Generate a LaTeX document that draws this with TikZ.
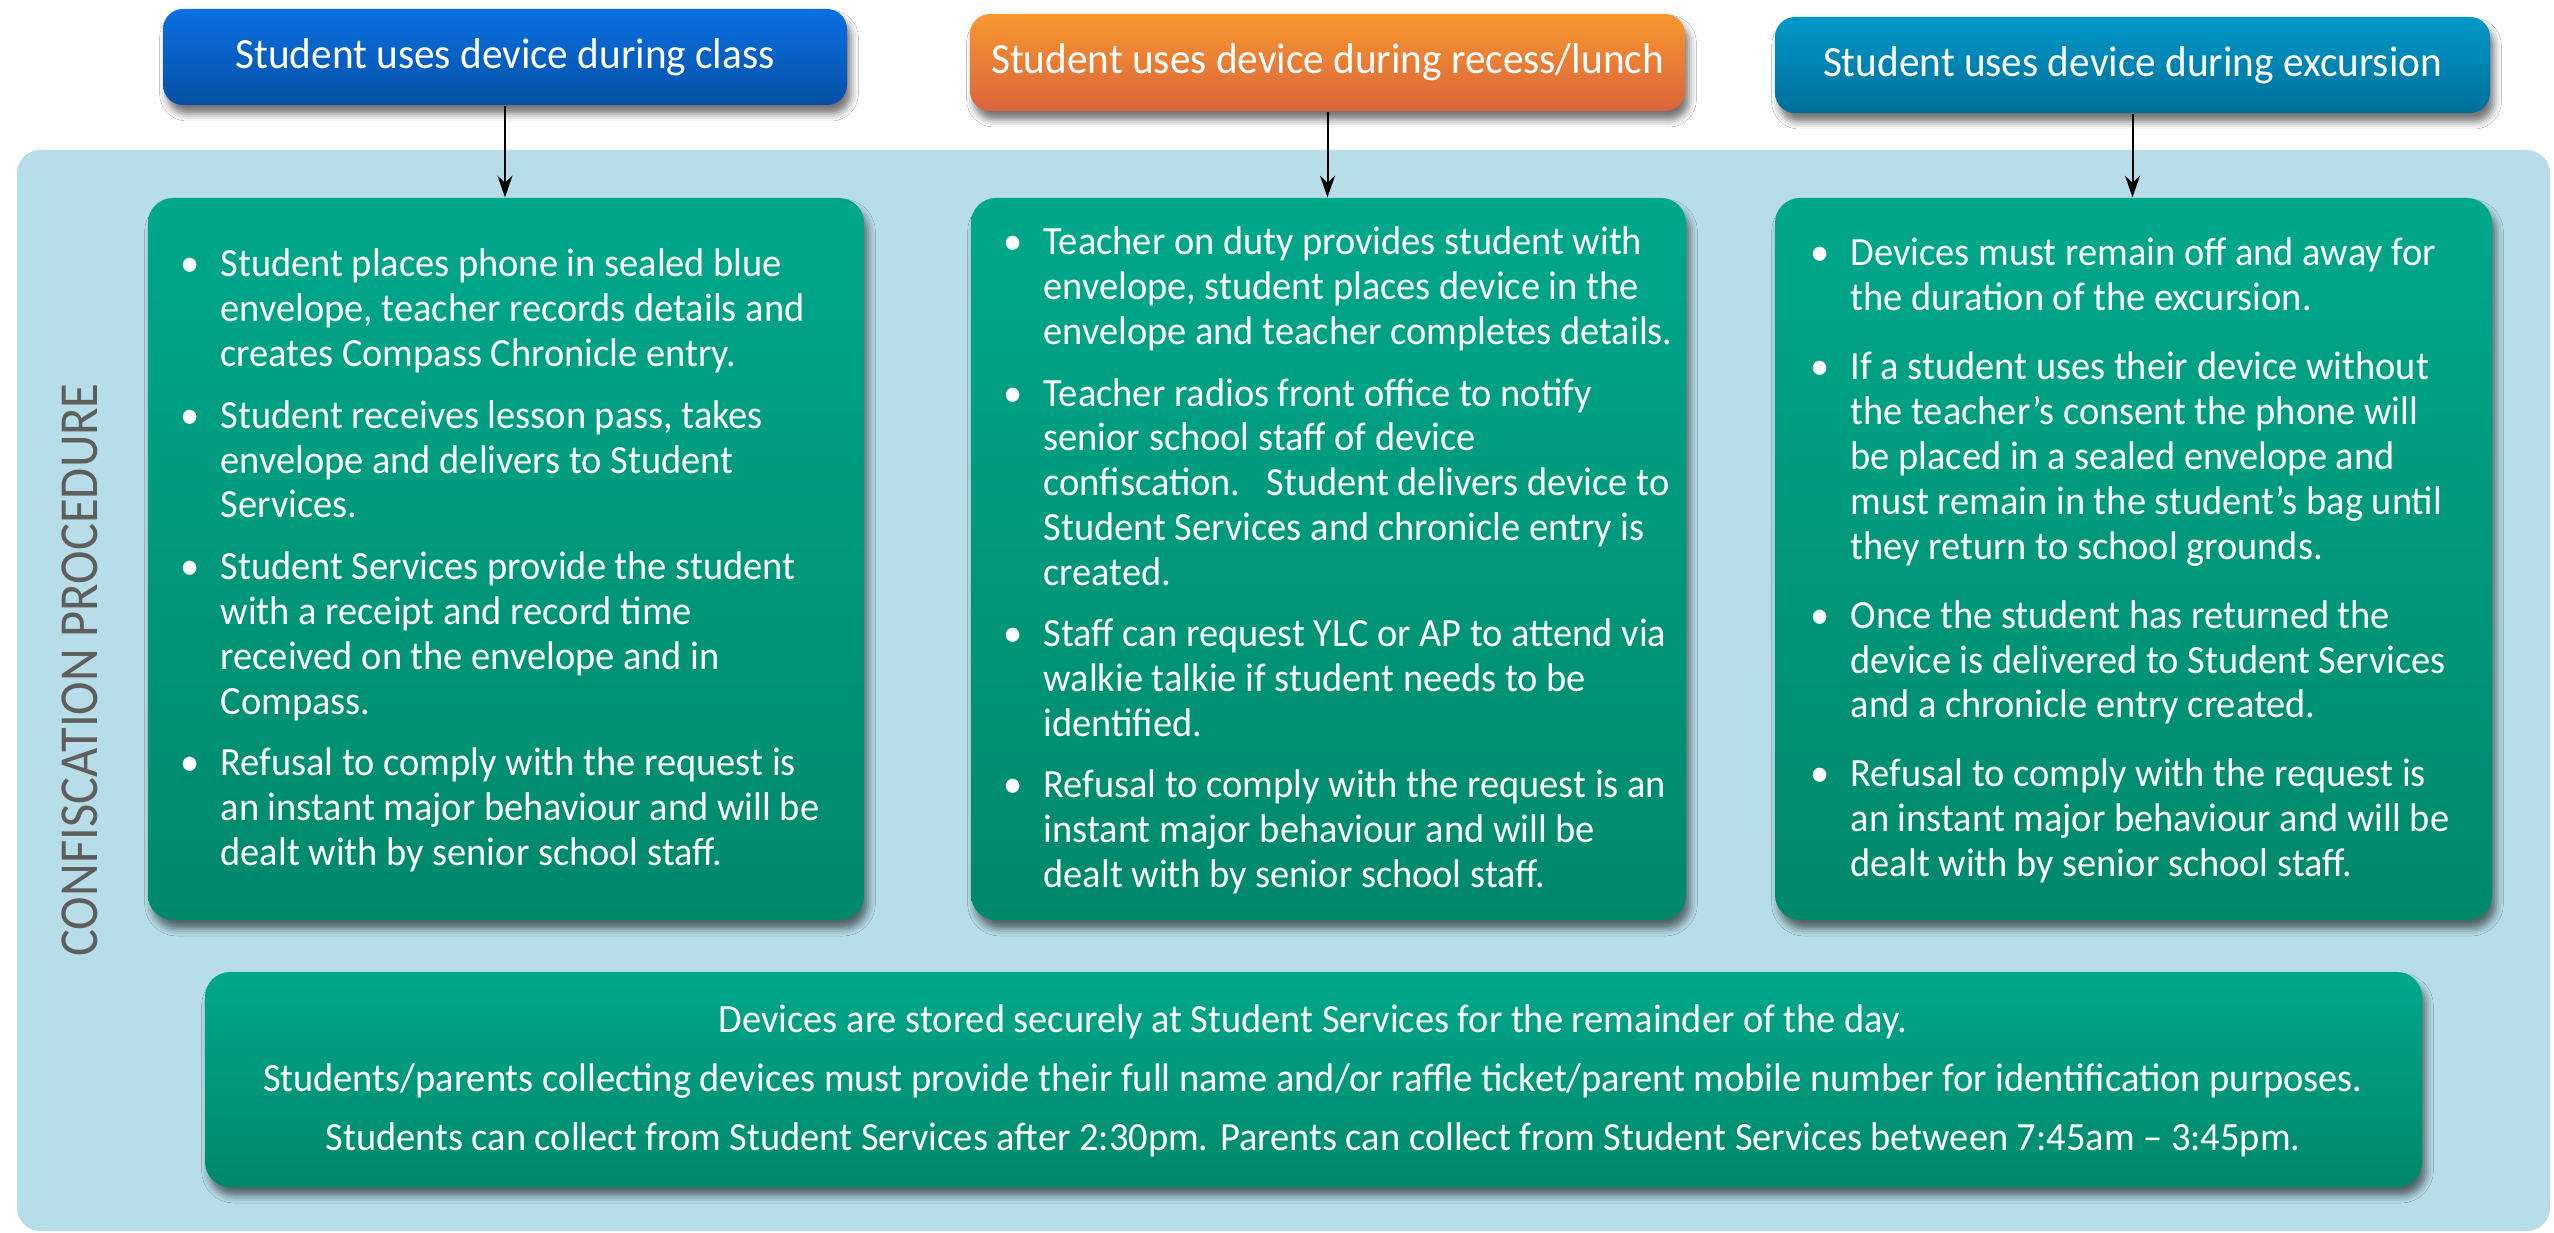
\documentclass[tikz,border=0pt]{standalone}
\usepackage{fontspec}
\setmainfont{Carlito}[FakeStretch=0.96]
\newfontfamily\vfont{Carlito}[FakeStretch=0.92]
\usetikzlibrary{arrows.meta,shadows.blur,fit}
\definecolor{bgblue}{HTML}{B7DDE8}
\definecolor{grtop}{HTML}{00A88A}
\definecolor{grbot}{HTML}{00886B}
\definecolor{hAtop}{HTML}{0A70E2}
\definecolor{hAbot}{HTML}{0650A4}
\definecolor{hBtop}{HTML}{F7972F}
\definecolor{hBbot}{HTML}{DA643C}
\definecolor{hCtop}{HTML}{0098C9}
\definecolor{hCbot}{HTML}{006F98}
\definecolor{vgray}{HTML}{5E5E5E}
\newlength{\itemgap}
\newcommand{\bitem}[1]{\noindent\llap{\makebox[12pt][l]{\textbullet}}#1\par\vspace{\itemgap}}
\newcommand{\coltext}[2]{\parbox[t]{220pt}{\raggedright\fontsize{12}{13.44}\selectfont\setlength{\itemgap}{#1}#2}}
\begin{document}
\begin{tikzpicture}[x=0.3pt,y=-0.3pt,
  shd/.style={blur shadow={shadow xshift=1.2pt,shadow yshift=-2.6pt,shadow blur radius=2.2pt,shadow opacity=55}},
  hdr/.style={shd,rounded corners=6pt,inner sep=0pt},
  hdrtext/.style={inner sep=0pt,text=white,font=\fontsize{12.9}{15}\selectfont},
  grbox/.style={shd,rounded corners=7.5pt,inner sep=0pt,top color=grtop,bottom color=grbot},
  arr/.style={-{Stealth[length=6.5pt,width=4.5pt]},line width=0.6pt,black},
  txt/.style={inner sep=0pt,anchor=base west,text=white}]
\useasboundingbox (0,0) rectangle (2554,1233);
\fill[white] (0,0) rectangle (2554,1233);
% background panel
\fill[bgblue,rounded corners=7pt] (17,150) rectangle (2550,1231);
% header boxes
\node[hdr,top color=hAtop,bottom color=hAbot,fit={(163,9) (847,105)}] (h1) {};
\node[hdr,top color=hBtop,bottom color=hBbot,fit={(970,14) (1685,111)}] (h2) {};
\node[hdr,top color=hCtop,bottom color=hCbot,fit={(1775,17) (2490,113)}] (h3) {};
\node[hdrtext] (h1t) at (h1.center) {Student uses device during class};
\node[hdrtext] (h2t) at (h2.center) {Student uses device during recess/lunch};
\node[hdrtext] (h3t) at (h3.center) {Student uses device during excursion};
% green boxes
\node[grbox,fit={(148,198) (864,920)}] (g1) {};
\node[grbox,fit={(971,198) (1686,920)}] (g2) {};
\node[grbox,fit={(1775,198) (2492,920)}] (g3) {};
\node[grbox,fit={(205,972) (2422,1187)}] (g4) {};
% arrows
\draw[arr] (h1.south) -- (h1.south |- g1.north);
\draw[arr] (h2.south) -- (h2.south |- g2.north);
\draw[arr] (h3.south) -- (h3.south |- g3.north);
% vertical label
\node[rotate=90,text=vgray,inner sep=0pt,font=\vfont\fontsize{16.5}{18}\selectfont] (lbl) at (80,670) {CONFISCATION PROCEDURE};
% column texts
\node[txt] (t1) at (220,277) {\coltext{5.1pt}{%
\bitem{Student places phone in sealed blue\\envelope, teacher records details and\\creates Compass Chronicle entry.}%
\bitem{Student receives lesson pass, takes\\envelope and delivers to Student\\Services.}%
\bitem{Student Services provide the student\\with a receipt and record time\\received on the envelope and in\\Compass.}%
\bitem{Refusal to comply with the request is\\an instant major behaviour and will be\\dealt with by senior school staff.}}};
\node[txt] (t2) at (1043,255) {\coltext{5.0pt}{%
\bitem{Teacher on duty provides student with\\envelope, student places device in the\\envelope and teacher completes details.}%
\bitem{Teacher radios front office to notify\\senior school staff of device\\confiscation.\ \ \ Student delivers device to\\Student Services and chronicle entry is\\created.}%
\bitem{Staff can request YLC or AP to attend via\\walkie talkie if student needs to be\\identified.}%
\bitem{Refusal to comply with the request is an\\instant major behaviour and will be\\dealt with by senior school staff.}}};
\node[txt] (t3) at (1850,266) {\coltext{7.3pt}{%
\bitem{Devices must remain off and away for\\the duration of the excursion.}%
\bitem{If a student uses their device without\\the teacher’s consent the phone will\\be placed in a sealed envelope and\\must remain in the student’s bag until\\they return to school grounds.}%
\bitem{Once the student has returned the\\device is delivered to Student Services\\and a chronicle entry created.}%
\bitem{Refusal to comply with the request is\\an instant major behaviour and will be\\dealt with by senior school staff.}}};
% bottom text
\node[inner sep=0pt,anchor=base,text=white] (t4) at (1313,1033) {\parbox[t]{720pt}{\centering\fontsize{12}{17.7}\selectfont
Devices are stored securely at Student Services for the remainder of the day.\\
Students/parents collecting devices must provide their full name and/or raffle ticket/parent mobile number for identification purposes.\\
Students can collect from Student Services after 2:30pm. Parents can collect from Student Services between 7:45am – 3:45pm.}};
\end{tikzpicture}
\end{document}
